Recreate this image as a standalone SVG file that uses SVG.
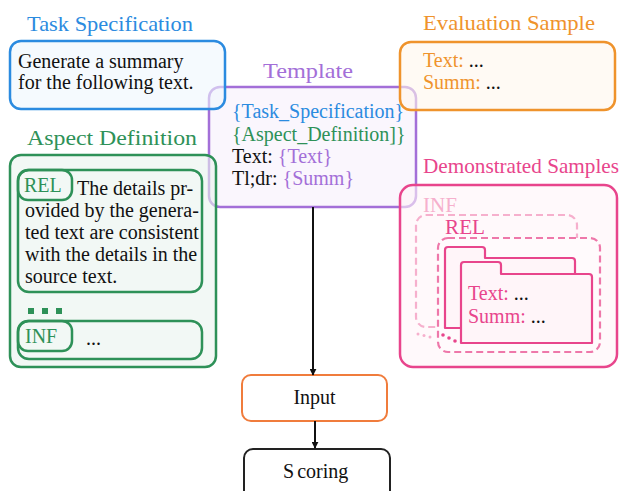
<svg xmlns="http://www.w3.org/2000/svg" width="622" height="491" viewBox="0 0 622 491" font-family="'Liberation Serif', Tinos, 'Times New Roman', Times, serif">
<defs>
<style>
.title{font-size:21.5px;}
.body{font-size:20px;fill:#111;}
.blue{fill:#2b8be0;}
.green{fill:#2e9158;}
.purple{fill:#a36fd8;}
.orange{fill:#ef932c;}
.pink{fill:#e8458c;}
.lpink{fill:#f6b0cd;}
.blk{fill:#111;}
</style>
<marker id="arr" viewBox="0 0 10 10" refX="9" refY="5" markerWidth="7" markerHeight="7" orient="auto" markerUnits="userSpaceOnUse">
<path d="M0,0 L10,5 L0,10 z" fill="#111"/>
</marker>
</defs>
<rect width="622" height="491" fill="#fff"/>

<g id="template">
<text class="title purple" x="263" y="78" textLength="90" lengthAdjust="spacingAndGlyphs">Template</text>
<rect x="209" y="87" width="207" height="120" rx="11" fill="#f6f0fc" fill-opacity="0.6" stroke="#a36fd8" stroke-width="2.5"/>
<text class="body blue" x="232" y="118">{Task_Specification}</text>
<text class="body green" x="232" y="141">{Aspect_Definition]}</text>
<text class="body" x="232" y="163">Text: <tspan class="purple">{Text}</tspan></text>
<text class="body" x="232" y="185">Tl;dr: <tspan class="purple">{Summ}</tspan></text>
</g>

<g id="task-specification">
<text class="title blue" x="27" y="31" textLength="166" lengthAdjust="spacingAndGlyphs">Task Specification</text>
<rect x="10" y="41" width="215" height="68" rx="11" fill="#eef6fd" fill-opacity="0.6" stroke="#2b8be0" stroke-width="2.5"/>
<text class="body" x="18" y="68">Generate a summary</text>
<text class="body" x="18" y="89">for the following text.</text>
</g>

<g id="aspect-definition">
<text class="title green" x="27" y="145" textLength="170" lengthAdjust="spacingAndGlyphs">Aspect Definition</text>
<rect x="10" y="155" width="206" height="212" rx="11" fill="#eaf3ee" fill-opacity="0.6" stroke="#2e9158" stroke-width="2.5"/>
<rect x="18" y="170" width="184" height="122" rx="11" fill="none" stroke="#2e9158" stroke-width="2.5"/>
<rect x="18" y="170" width="54" height="30" rx="10" fill="none" stroke="#2e9158" stroke-width="2.5"/>
<text class="body green" x="24" y="192">REL</text>
<text class="body" x="77" y="195">The details pr-</text>
<text class="body" x="25" y="217">ovided by the genera-</text>
<text class="body" x="25" y="239">ted text are consistent</text>
<text class="body" x="25" y="261">with the details in the</text>
<text class="body" x="25" y="283">source text.</text>
<rect x="28" y="308" width="6" height="6" fill="#2e9158"/>
<rect x="42" y="308" width="6" height="6" fill="#2e9158"/>
<rect x="56" y="308" width="6" height="6" fill="#2e9158"/>
<rect x="18" y="321" width="184" height="38" rx="11" fill="none" stroke="#2e9158" stroke-width="2.5"/>
<rect x="18" y="321" width="54" height="30" rx="10" fill="none" stroke="#2e9158" stroke-width="2.5"/>
<text class="body green" x="25" y="343">INF</text>
<text class="body" x="86" y="345">...</text>
</g>

<g id="evaluation-sample">
<text class="title orange" x="423" y="30" textLength="172" lengthAdjust="spacingAndGlyphs">Evaluation Sample</text>
<rect x="400" y="42" width="215" height="68" rx="11" fill="#fff6ec" fill-opacity="0.6" stroke="#ef932c" stroke-width="2.5"/>
<text class="body orange" x="423" y="67">Text: <tspan class="blk">...</tspan></text>
<text class="body orange" x="423" y="89">Summ: <tspan class="blk">...</tspan></text>
</g>

<g id="demonstrated-samples">
<text class="title pink" x="423" y="173" textLength="196" lengthAdjust="spacingAndGlyphs">Demonstrated Samples</text>
<rect x="400" y="185" width="217" height="182" rx="13" fill="#fff5f9" fill-opacity="0.6" stroke="#e8458c" stroke-width="2.5"/>
<text class="title lpink" x="423" y="212" textLength="34" lengthAdjust="spacingAndGlyphs">INF</text>
<rect x="416" y="215" width="161" height="112" rx="10" fill="none" stroke="#f6b0cd" stroke-width="2.2" stroke-dasharray="7,4"/>
<circle cx="418" cy="334" r="1.5" fill="#f6b0cd"/>
<circle cx="424" cy="335.5" r="1.5" fill="#f6b0cd"/>
<circle cx="430" cy="337" r="1.5" fill="#f6b0cd"/>
<rect x="438" y="238" width="162" height="114" rx="10" fill="#fffafc" stroke="#ee78aa" stroke-width="2.2" stroke-dasharray="7,4"/>
<text class="title pink" x="445" y="234" textLength="40" lengthAdjust="spacingAndGlyphs">REL</text>
<path d="M445,328 V250 q0,-3 3,-3 h34 q3,0 3,3 v8 h87 q3,0 3,3 v67 z" fill="#fff5f9" stroke="#e8458c" stroke-width="2.2" stroke-linejoin="round"/>
<path d="M461,343 V265 q0,-3 3,-3 h34 q3,0 3,3 v9 h88 q3,0 3,3 v66 z" fill="#fff5f9" stroke="#e8458c" stroke-width="2.2" stroke-linejoin="round"/>
<circle cx="443" cy="335" r="1.8" fill="#e8458c"/>
<circle cx="449" cy="338" r="1.8" fill="#e8458c"/>
<circle cx="455" cy="341" r="1.8" fill="#e8458c"/>
<text class="body pink" x="468" y="300">Text: <tspan class="blk">...</tspan></text>
<text class="body pink" x="468" y="323">Summ: <tspan class="blk">...</tspan></text>
</g>

<g id="input">
<rect x="242" y="375" width="145" height="46" rx="9" fill="#fff" stroke="#f07c3c" stroke-width="2"/>
<text class="body" x="314.5" y="404" text-anchor="middle" font-size="21">Input</text>
</g>

<g id="scoring">
<rect x="244" y="449" width="146" height="60" rx="9" fill="#fff" stroke="#222" stroke-width="2"/>
<text class="body" x="283" y="478" font-size="21">S<tspan dx="3">coring</tspan></text>
</g>

<g id="connectors" stroke="#111" stroke-width="2" fill="none">
<line x1="313" y1="207" x2="313" y2="375" marker-end="url(#arr)"/>
<line x1="315" y1="421" x2="315" y2="448" marker-end="url(#arr)"/>
</g>
</svg>
